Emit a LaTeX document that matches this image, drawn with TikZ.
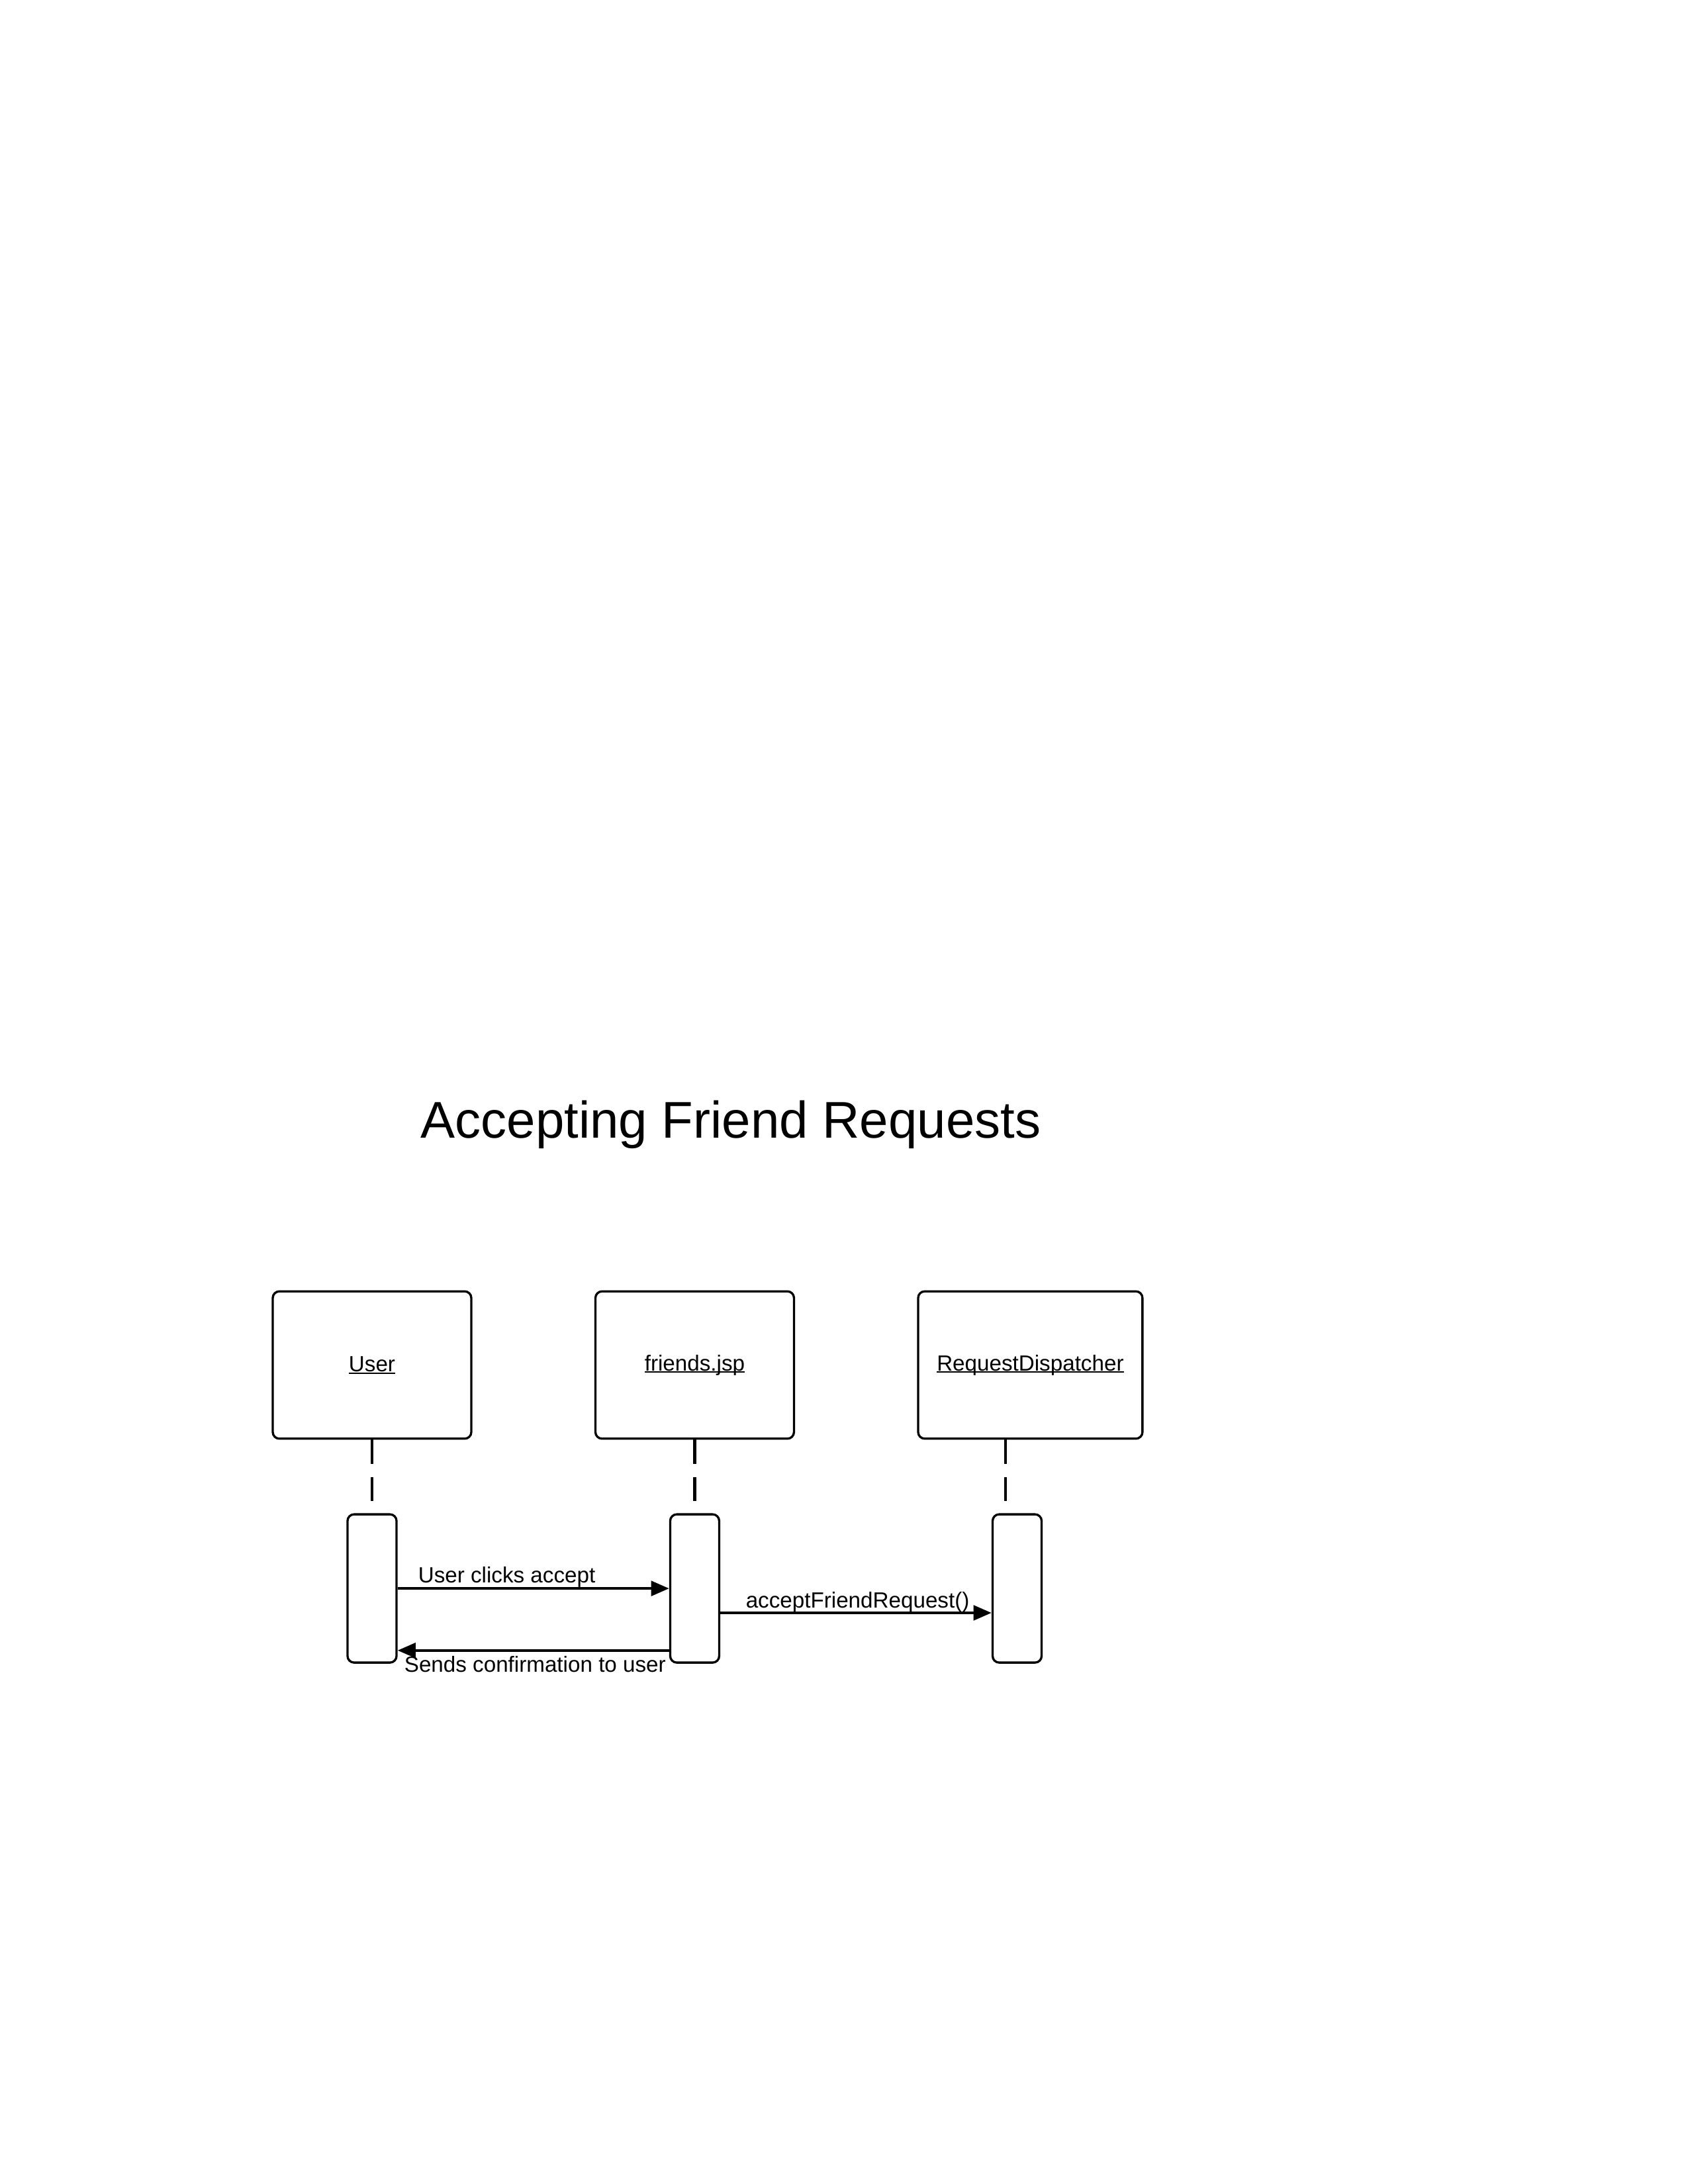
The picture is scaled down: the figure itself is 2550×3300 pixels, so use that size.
\documentclass[tikz,border=0pt]{standalone}
\usepackage{fontspec}
\setmainfont{Liberation Sans}
\usetikzlibrary{arrows.meta,positioning,calc}
\newsavebox{\headbox}
\newcommand{\headname}[1]{\sbox{\headbox}{#1}\rlap{\usebox{\headbox}}\rule[-0.75pt]{\wd\headbox}{0.45pt}}

\begin{document}
\begin{tikzpicture}
[x=0.0084667cm,y=-0.0084667cm,
node distance=1.56cm,
head/.style={draw=black,line width=.8pt,rounded corners=2.4pt,minimum width=2.54cm,minimum height=1.885cm,font=\fontsize{8}{10}\selectfont},
act/.style={draw=black,line width=.8pt,rounded corners=2.4pt,minimum width=.627cm,minimum height=1.897cm},
life/.style={black,line width=1pt,dash pattern=on 8.88pt off 4.8pt,shorten >=4.56pt},
msg/.style={black,line width=1pt,-{Triangle[length=2.3mm,width=1.9mm]}},
msglabel/.style={font=\fontsize{8}{10}\selectfont,inner sep=0pt}]
\useasboundingbox (0,0) rectangle (2550,3300);
%%
\node (title) [anchor=base,font=\fontsize{18.8}{22}\selectfont] at (1104,1719) {Accepting Friend Requests};
%%
\node[head] (user) at (562,2062.5) {\headname{User}};
\node (friends) [head,right=of user] {\headname{friends.jsp}};
\node (disp) [head,right=of friends,minimum width=2.87cm] {\headname{RequestDispatcher}};
%%
\node (uact) [act,below=.94cm of user] {};
\node (fact) [act,below=.94cm of friends] {};
\node (dact) [act,below=.94cm of disp,xshift=-4.8pt] {};
%%
\draw[life] (user.south) -- (uact.north);
\draw[life] (friends.south) -- (fact.north);
\draw[life] ([xshift=-9.1pt]disp.south) -- ([xshift=-9.1pt]disp.south |- dact.north);
%%
\draw[msg] (uact.east) -- node[msglabel,pos=0,anchor=base west,xshift=7pt,yshift=2pt] {User clicks accept} (fact.west);
\draw[msg] ([yshift=-8.88pt]fact.east) -- node[msglabel,pos=0,anchor=base west,xshift=8.8pt,yshift=1.7pt] {acceptFriendRequest()} ([yshift=-8.88pt]dact.west);
\draw[msg] ([yshift=-22.56pt]fact.west) -- node[msglabel,pos=0,anchor=base east,xshift=-.7pt,yshift=-7.9pt] {Sends confirmation to user} ([yshift=-22.56pt]uact.east);
\end{tikzpicture}
\end{document}
